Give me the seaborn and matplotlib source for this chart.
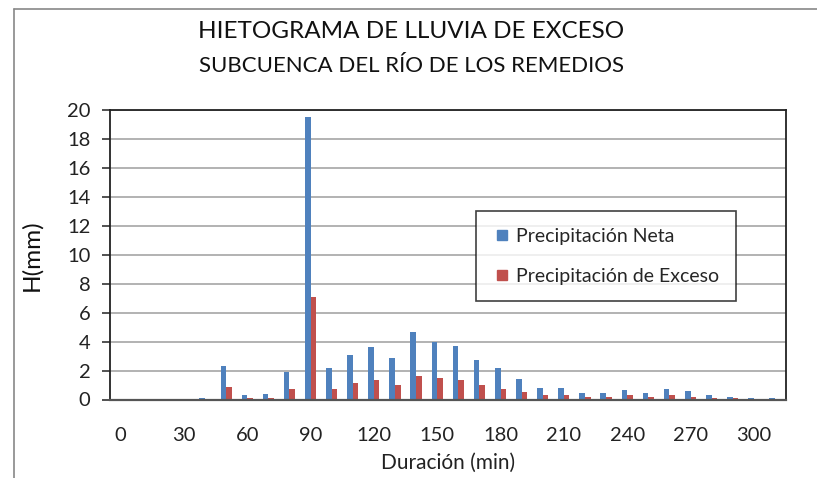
import matplotlib
matplotlib.use("Agg")
import matplotlib.pyplot as plt
import seaborn as sns
import pandas as pd
from matplotlib.lines import Line2D

duracion = list(range(0, 320, 10))
neta = [0, 0, 0, 0, 0.1, 2.32, 0.28, 0.35, 1.93, 19.57, 2.15, 3.07, 3.62, 2.89, 4.69, 3.99,
        3.72, 2.72, 2.15, 1.41, 0.83, 0.83, 0.44, 0.44, 0.69, 0.44, 0.76, 0.60, 0.28, 0.18, 0.09, 0.09]
exceso = [0, 0, 0, 0, 0.0, 0.86, 0.09, 0.09, 0.70, 7.06, 0.76, 1.11, 1.34, 0.99, 1.66, 1.50,
          1.34, 0.99, 0.76, 0.53, 0.28, 0.28, 0.18, 0.18, 0.28, 0.18, 0.28, 0.18, 0.09, 0.09, 0.03, 0.0]
series_names = ["Precipitación Neta", "Precipitación de Exceso"]
tick_vals = list(range(0, 301, 30))
title1 = "HIETOGRAMA DE LLUVIA DE EXCESO"
title2 = "SUBCUENCA DEL RÍO DE LOS REMEDIOS"

df = pd.DataFrame({
    "Duracion": duracion * 2,
    "H": neta + exceso,
    "Serie": [series_names[0]] * len(duracion) + [series_names[1]] * len(duracion),
})

sns.set_style("white")
plt.rcParams["font.family"] = ["Lato", "DejaVu Sans"]

W, H = 817, 478
fig = plt.figure(figsize=(W / 100, H / 100), dpi=100)
ax = fig.add_axes([110 / W, 1 - 399.5 / H, (785.5 - 110) / W, (399.5 - 110.4) / H])

palette = {series_names[0]: "#4F81BD", series_names[1]: "#C0504D"}
sns.barplot(data=df, x="Duracion", y="H", hue="Serie", order=duracion,
            hue_order=series_names, palette=palette, width=0.53, gap=0,
            saturation=1, ax=ax, legend=False, linewidth=0, errorbar=None)

ax.set_ylim(0, 20)
ax.set_xlim(-0.5, len(duracion) - 0.5)
ax.set_yticks(range(0, 21, 2))
ax.yaxis.grid(True, color="#A6A6A6", linewidth=1.2)
ax.set_axisbelow(True)
ax.set_xticks([duracion.index(v) for v in tick_vals])
ax.set_xticklabels([str(v) for v in tick_vals])
ax.tick_params(axis="x", length=0, pad=20, labelsize=14.5, colors="#222222")
ax.tick_params(axis="y", length=6, width=1.2, direction="out", left=True,
               pad=8, labelsize=14.5, colors="#222222")
ax.tick_params(axis="y", color="#333333")
for s in ax.spines.values():
    s.set_visible(True)
    s.set_color("#222222")
    s.set_linewidth(1.3)
ax.spines["bottom"].set_color("#555555")
ax.spines["bottom"].set_linewidth(1.6)

ax.set_xlabel("Duración (min)", fontsize=15, labelpad=6, color="#222222")
ax.set_ylabel("H(mm)", fontsize=17.5, labelpad=18, color="#111111")

handles = [Line2D([0], [0], marker="s", linestyle="none", markersize=7,
                  markerfacecolor=palette[n], markeredgecolor=palette[n]) for n in series_names]
leg = ax.legend(handles, series_names, loc="upper left",
                bbox_to_anchor=((476 - 110) / (785.5 - 110), 1 - (211 - 110.4) / (399.5 - 110.4)),
                frameon=True, fancybox=False, fontsize=14, labelspacing=1.2,
                handletextpad=0.2, handlelength=1.0, borderpad=0.85, borderaxespad=0)
leg.get_frame().set_edgecolor("#111111")
leg.get_frame().set_linewidth(1.2)

fig.text(411 / W, 1 - 31 / H, title1, ha="center", va="center", fontsize=17.5, color="#111111")
fig.text(411 / W, 1 - 66 / H, title2, ha="center", va="center", fontsize=16, color="#111111")

fig.add_artist(Line2D([14 / W, 14 / W], [0, 1 - 9 / H], transform=fig.transFigure,
                      color="#888888", linewidth=1.2))
fig.add_artist(Line2D([14 / W, 1], [1 - 9 / H, 1 - 9 / H], transform=fig.transFigure,
                      color="#888888", linewidth=1.2))

fig.savefig("out.png", dpi=100)
